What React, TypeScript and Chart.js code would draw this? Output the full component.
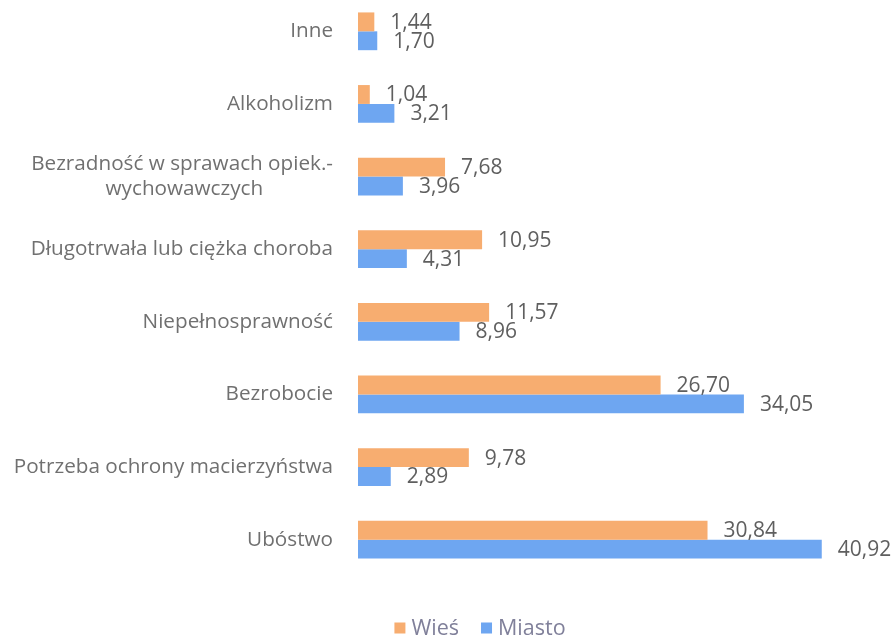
import React, { useEffect, useRef } from 'react';
import { Chart, registerables } from 'chart.js';

Chart.register(...registerables);

const categories: (string | string[])[] = [
  'Inne',
  'Alkoholizm',
  ['Bezradność w sprawach opiek.-', 'wychowawczych'],
  'Długotrwała lub ciężka choroba',
  'Niepełnosprawność',
  'Bezrobocie',
  'Potrzeba ochrony macierzyństwa',
  'Ubóstwo',
];
const wiesValues = [1.44, 1.04, 7.68, 10.95, 11.57, 26.7, 9.78, 30.84];
const miastoValues = [1.7, 3.21, 3.96, 4.31, 8.96, 34.05, 2.89, 40.92];
const seriesNames = ['Wieś', 'Miasto'];
const xMin = 0;
const xMax = 45;

const FONT_FAMILY = "'Open Sans', sans-serif";
const TICK_SIZE = 20.7;
const VALUE_SIZE = 21;
const LEGEND_SIZE = 21.5;
const ORANGE = '#F7AD70';
const BLUE = '#6EA6F1';

const fmt = (v: number) => v.toFixed(2).replace('.', ',');

// center multi-line tick labels (right-aligned by Chart.js) by padding with NBSPs
function centerLines(lines: string[]): string[] {
  const c = document.createElement('canvas').getContext('2d')!;
  c.font = `${TICK_SIZE}px ${FONT_FAMILY}`;
  const widths = lines.map((l) => c.measureText(l).width);
  const maxW = Math.max(...widths);
  const nb = c.measureText('\u00A0').width || 5;
  return lines.map((l, i) => {
    const n = Math.round((maxW - widths[i]) / 2 / nb);
    return l + '\u00A0'.repeat(n);
  });
}

const valueLabels = {
  id: 'valueLabels',
  afterDatasetsDraw(chart: any) {
    const ctx = chart.ctx;
    ctx.save();
    ctx.font = `${VALUE_SIZE}px ${FONT_FAMILY}`;
    ctx.fillStyle = '#5f5f5f';
    ctx.textAlign = 'left';
    ctx.textBaseline = 'middle';
    chart.data.datasets.forEach((ds: any, di: number) => {
      const meta = chart.getDatasetMeta(di);
      meta.data.forEach((el: any, i: number) => {
        ctx.fillText(fmt(ds.data[i]), el.x + 16, el.y + 1);
      });
    });
    ctx.restore();
  },
};

const customLegend = {
  id: 'customLegend',
  afterDraw(chart: any) {
    const ctx = chart.ctx;
    ctx.save();
    ctx.font = `${LEGEND_SIZE}px ${FONT_FAMILY}`;
    ctx.textBaseline = 'middle';
    ctx.textAlign = 'left';
    const box = 11;
    const gapBox = 6;
    const gapItem = 22;
    const items = chart.data.datasets.map((d: any) => ({
      text: d.label,
      color: d.backgroundColor,
      w: ctx.measureText(d.label).width,
    }));
    const total =
      items.reduce((s: number, it: any) => s + box + gapBox + it.w, 0) +
      gapItem * (items.length - 1);
    const cx = 480;
    const cy = chart.height - 8;
    let x = cx - total / 2;
    items.forEach((it: any) => {
      ctx.fillStyle = it.color;
      ctx.fillRect(x, cy - box / 2, box, box);
      x += box + gapBox;
      ctx.fillStyle = '#80809a';
      ctx.fillText(it.text, x, cy + 1);
      x += it.w + gapItem;
    });
    ctx.restore();
  },
};

export default function App() {
  const ref = useRef<HTMLCanvasElement>(null);

  useEffect(() => {
    document.body.style.margin = '0';
    document.body.style.overflow = 'hidden';
    const canvas = ref.current!;
    const labels = categories.map((c) => (Array.isArray(c) ? centerLines(c) : c));
    const chart = new Chart(canvas, {
      type: 'bar',
      data: {
        labels,
        datasets: [
          {
            label: seriesNames[0],
            data: wiesValues,
            backgroundColor: ORANGE,
            categoryPercentage: 0.52,
            barPercentage: 1,
          },
          {
            label: seriesNames[1],
            data: miastoValues,
            backgroundColor: BLUE,
            categoryPercentage: 0.52,
            barPercentage: 1,
          },
        ],
      },
      options: {
        indexAxis: 'y',
        animation: false,
        responsive: false,
        layout: { padding: { top: 0, bottom: 60, left: 0, right: 25 } },
        plugins: {
          legend: { display: false },
          tooltip: { enabled: false },
        },
        scales: {
          x: {
            display: false,
            min: xMin,
            max: xMax,
          },
          y: {
            grid: { display: false, drawTicks: false },
            border: { display: false },
            ticks: {
              padding: 25,
              color: '#707070',
              font: { family: FONT_FAMILY, size: TICK_SIZE, lineHeight: 1.22 },
            },
            afterFit(scale: any) {
              scale.width = 358;
              scale.paddingTop = 0;
              scale.paddingBottom = 0;
            },
          },
        },
      },
      plugins: [valueLabels, customLegend],
    });
    return () => chart.destroy();
  }, []);

  return (
    <canvas
      ref={ref}
      width={893}
      height={641}
      style={{ display: 'block', marginTop: -5 }}
    />
  );
}
